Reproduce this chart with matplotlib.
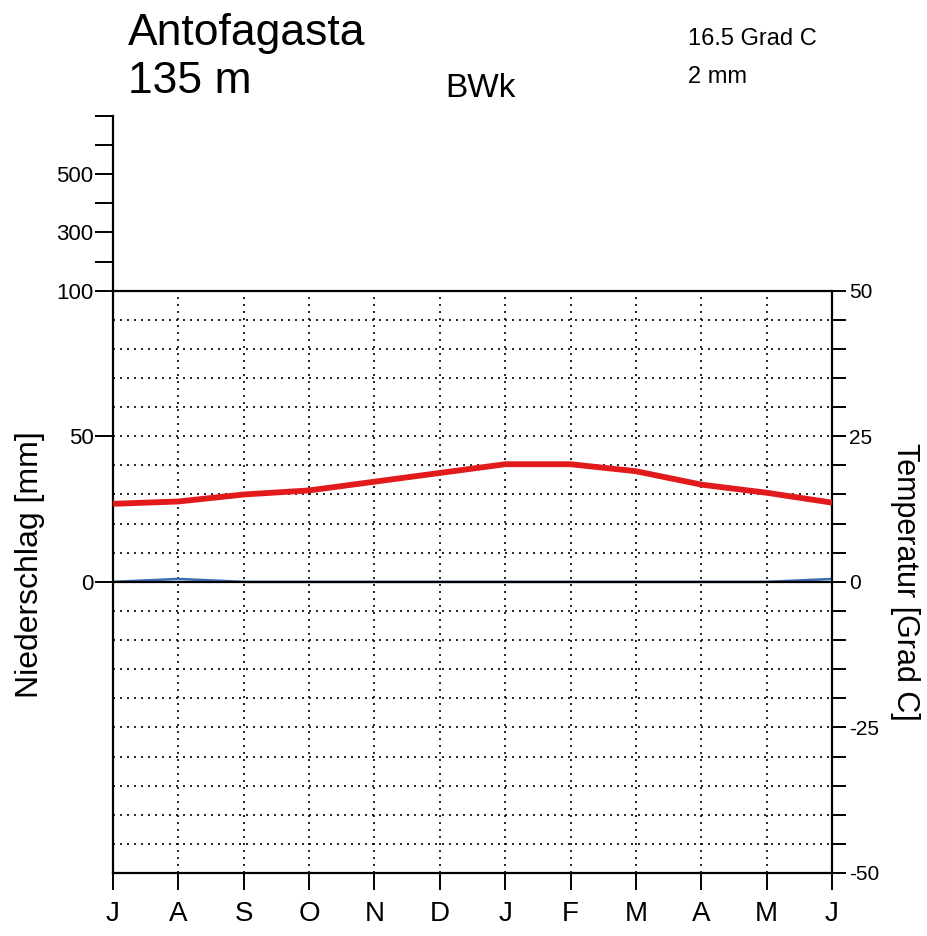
import numpy as np
import matplotlib.pyplot as plt

plt.rcParams['font.family'] = ['Liberation Sans', 'DejaVu Sans']

# climate data, July .. June (southern hemisphere)
months = ['J', 'A', 'S', 'O', 'N', 'D', 'J', 'F', 'M', 'A', 'M', 'J']
temp = [13.4, 13.8, 15.0, 15.7, 17.2, 18.7, 20.2, 20.2, 19.0, 16.7, 15.3, 13.6]
precip = [0, 1, 0, 0, 0, 0, 0, 0, 0, 0, 0, 1]

station = 'Antofagasta'
height = '135 m'
climate = 'BWk'
mean_temp = '16.5 Grad C'
sum_precip = '2 mm'

prec_ticks = [0, 50, 100, 200, 300, 400, 500, 600, 700]
prec_labels = ['0', '50', '100', '', '300', '', '500', '', '']
temp_ticks = list(range(-50, 55, 5))
temp_labels = [str(t) if t % 25 == 0 else '' for t in temp_ticks]

W, H = 928, 936


# precipitation above 100 mm is compressed 1:10
def fwd(p):
    p = np.asarray(p, dtype=float)
    return np.where(p <= 100, p, 100 + (p - 100) / 10.0)


def inv(d):
    d = np.asarray(d, dtype=float)
    return np.where(d <= 100, d, 100 + (d - 100) * 10.0)


fig = plt.figure(figsize=(W / 100, H / 100), dpi=100)
ax = fig.add_axes([113 / W, 1 - 873 / H, 719 / W, 757 / H])
ax.set_yscale('function', functions=(fwd, inv))
ax.set_ylim(-100, 700)
x = np.arange(len(months))
ax.set_xlim(0, len(months) - 1)

dots = (0, (1.2, 3.0))
for t in temp_ticks:
    if t in (-50, 0, 50):
        continue
    ax.axhline(2 * t, color='black', lw=1.2, ls=dots, zorder=1)
ax.vlines(x[1:-1], -100, 100, color='black', lw=1.2, linestyles=[dots], zorder=1)
# precipitation line sits under the zero line, shows only where > 0
ax.plot(x, precip, color='#3b6db3', lw=1.8, zorder=2)
ax.axhline(0, color='black', lw=1.6, zorder=3)
ax.axhline(100, color='black', lw=1.6, zorder=3)

for s in ['top', 'right']:
    ax.spines[s].set_visible(False)
for s in ['left', 'bottom']:
    ax.spines[s].set_linewidth(1.6)

ax.set_yticks(prec_ticks)
ax.set_yticklabels(prec_labels)
ax.yaxis.set_minor_locator(plt.NullLocator())
ax.tick_params(axis='y', length=13, width=1.4, pad=1, labelsize=16)
ax.set_xticks(x)
ax.set_xticklabels(months)
ax.tick_params(axis='x', length=12, width=1.4, pad=8, labelsize=20)

ax2 = ax.twinx()
ax2.set_ylim(-50, 80)
ax2.plot(x, temp, color='#e31a1c', lw=4.2, zorder=4, solid_capstyle='butt')
for s in ['top', 'left', 'bottom']:
    ax2.spines[s].set_visible(False)
ax2.spines['right'].set_bounds(-50, 50)
ax2.spines['right'].set_linewidth(1.6)
ax2.set_yticks(temp_ticks)
ax2.set_yticklabels(temp_labels)
ax2.tick_params(axis='y', length=10, width=1.4, pad=2, labelsize=15)

fig.text(128 / W, 1 - 45 / H, station, fontsize=32, va='baseline')
fig.text(128 / W, 1 - 93 / H, height, fontsize=32, va='baseline')
fig.text(445 / W, 1 - 97 / H, climate, fontsize=24, va='baseline')
fig.text(688 / W, 1 - 45 / H, mean_temp, fontsize=17, va='baseline')
fig.text(688 / W, 1 - 83 / H, sum_precip, fontsize=17, va='baseline')
fig.text(30 / W, 1 - 565 / H, 'Niederschlag [mm]', fontsize=23,
         rotation=90, ha='center', va='center')
fig.text(905 / W, 1 - 582 / H, 'Temperatur [Grad C]', fontsize=22,
         rotation=270, ha='center', va='center')

fig.savefig('out.png', dpi=100)
